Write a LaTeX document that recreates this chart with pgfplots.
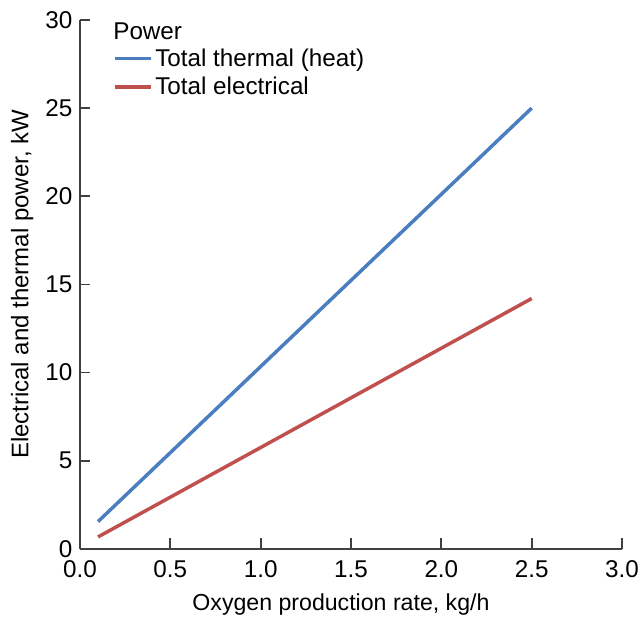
\documentclass[border=0pt]{standalone}
\usepackage{fontspec}
\setmainfont{Liberation Sans}
\usepackage{pgfplots}
\pgfplotsset{compat=1.18}

\definecolor{thermal}{RGB}{74,126,193}
\definecolor{electric}{RGB}{192,80,77}
\definecolor{axgray}{RGB}{64,64,64}

\begin{document}
\begin{tikzpicture}
  % page size fixed to the reference's margins around the axis box
  \useasboundingbox (-57.4pt,-51pt) rectangle (402.6pt,393.9pt);
  \begin{axis}[
      anchor=south west, at={(0,0)},
      scale only axis,
      width=389pt, height=379.6pt,
      xmin=0, xmax=3, ymin=0, ymax=30,
      axis lines=left,
      axis line style={draw=axgray, line width=1.3pt, -},
      xtick={0,0.5,...,3}, ytick={0,5,...,30},
      tick align=inside,
      every tick/.style={draw=axgray, line width=1.3pt},
      major tick length=7.5pt,
      xticklabel style={/pgf/number format/fixed, /pgf/number format/fixed zerofill, /pgf/number format/precision=1, yshift=-5pt},
      yticklabel style={xshift=-2pt},
      /pgf/number format/assume math mode=true,
      tick label style={font=\fontsize{17.4}{19}\selectfont},
      xlabel={Oxygen production rate, kg/h},
      ylabel={Electrical and thermal power, kW},
      every axis x label/.style={at={(axis description cs:0.4815,0)}, anchor=base, yshift=-44.5pt,
        font=\fontsize{16.6}{19}\selectfont},
      every axis y label/.style={at={(axis description cs:-0.0951,0.5)}, rotate=90, anchor=base,
        font=\fontsize{17.2}{19}\selectfont},
      legend cell align=left,
      legend style={draw=none, fill=none, at={(0.060,0.951)}, anchor=north west,
        inner xsep=0pt, inner ysep=0pt,
        font=\fontsize{17.4}{19}\selectfont, row sep=2pt},
      legend image code/.code={\draw[#1, line width=2.4pt] (0pt,0pt) -- (20.8pt,0pt);
        \path (0pt,0pt) -- (26pt,0pt);},
    ]
    \addplot[thermal, line width=2.5pt] coordinates {(0.1,1.55) (2.5,25.0)};
    \addplot[electric, line width=2.5pt] coordinates {(0.1,0.68) (2.5,14.2)};
    \legend{Total thermal (heat), Total electrical}
    \node[anchor=base west, font=\fontsize{17.4}{19}\selectfont, inner sep=0pt] at (axis cs:0.183,28.87) {Power};
  \end{axis}
\end{tikzpicture}
\end{document}
